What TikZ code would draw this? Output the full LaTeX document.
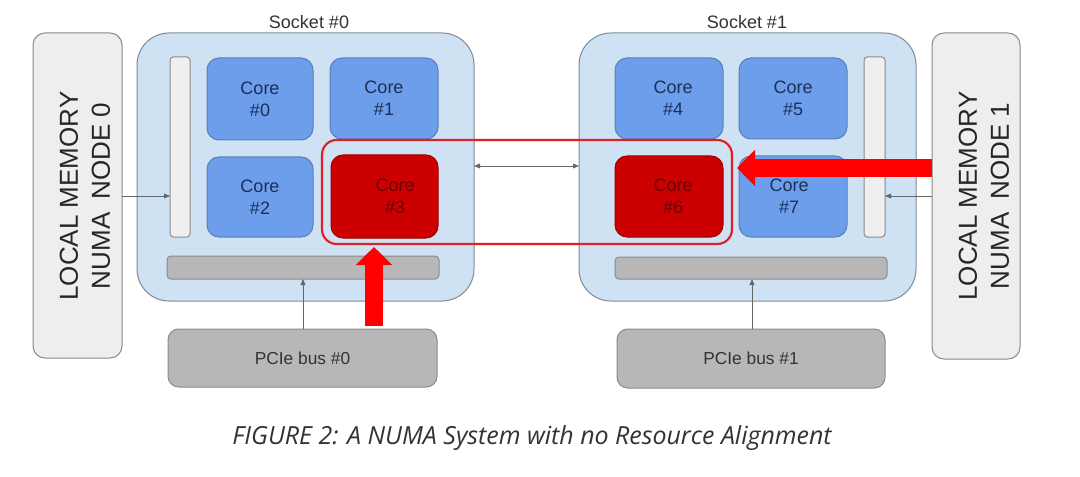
\documentclass[tikz,border=0pt]{standalone}
\usepackage{fontspec}
\setmainfont{Liberation Sans}
\newfontfamily\capfont{Open Sans}
\usetikzlibrary{arrows.meta,fit}
\definecolor{memfill}{HTML}{EEEEEE}
\definecolor{memdraw}{HTML}{8A8A8A}
\definecolor{sockfill}{HTML}{CFE2F3}
\definecolor{sockdraw}{HTML}{7F8A96}
\definecolor{corefill}{HTML}{6D9EEB}
\definecolor{coredraw}{HTML}{5A7FB5}
\definecolor{coretext}{HTML}{1C2F55}
\definecolor{redfill}{HTML}{CC0000}
\definecolor{reddraw}{HTML}{A00000}
\definecolor{redtext}{HTML}{6A0000}
\definecolor{barfill}{HTML}{B7B7B7}
\definecolor{bardraw}{HTML}{8A8A8A}
\definecolor{vbarfill}{HTML}{EFEFEF}
\definecolor{outline}{HTML}{DD1F26}
\definecolor{bigred}{HTML}{FF0000}
\definecolor{thin}{HTML}{666666}
\definecolor{txt}{HTML}{333333}
\begin{document}
\begin{tikzpicture}[x=0.75pt,y=-0.75pt,
  base/.style={inner sep=0pt,outer sep=0pt,line width=0.75pt},
  mem/.style={base,draw=memdraw,fill=memfill,rounded corners=9pt},
  memtext/.style={rotate=90,align=center,text=black!85,font=\fontsize{19.5}{24}\selectfont},
  socket/.style={base,draw=sockdraw,fill=sockfill,rounded corners=24pt},
  socklabel/.style={text=txt,font=\fontsize{13.5}{16}\selectfont},
  core/.style={base,draw=coredraw,fill=corefill,rounded corners=9pt},
  redcore/.style={core,draw=reddraw,fill=redfill},
  coretxt/.style={align=center,text=coretext,font=\fontsize{13.5}{16.5}\selectfont},
  redtxt/.style={coretxt,text=redtext},
  vbar/.style={base,draw=bardraw,fill=vbarfill,rounded corners=2.5pt},
  hbar/.style={base,draw=bardraw,fill=barfill,rounded corners=3pt},
  pcie/.style={base,draw=bardraw,fill=barfill,rounded corners=8pt},
  pcietxt/.style={text=txt,font=\fontsize{13}{16}\selectfont},
  alignbox/.style={base,draw=outline,line width=1.6pt,rounded corners=11pt},
  thinarrow/.style={draw=thin,line width=0.6pt,-{Triangle[length=4.5pt,width=3.6pt]}},
  bigarrow/.style={draw=bigred,line width=13.5pt,-{Triangle[length=13.5pt,width=26.5pt]}}
]
\useasboundingbox (0,0) rectangle (1080,477);
\fill[white] (0,0) rectangle (1080,477);

% memories
\node[mem,fit={(33,33) (122,358)}] (mem0) {};
\node[memtext] (mem0t) at (85,196) {LOCAL MEMORY\\NUMA\enspace NODE 0};
\node[mem,fit={(932,33) (1020,359)}] (mem1) {};
\node[memtext] (mem1t) at (984,196) {LOCAL MEMORY\\NUMA\enspace NODE 1};

% sockets
\node[socket,fit={(137,33) (474,301)}] (s0) {};
\node[socklabel] (s0l) at (309,22) {Socket \#0};
\node[socket,fit={(579,33) (916,301)}] (s1) {};
\node[socklabel] (s1l) at (747,22) {Socket \#1};

% bars
\node[vbar,fit={(170,57) (190,237)}] (vb0) {};
\node[hbar,fit={(167,256) (439,279)}] (hb0) {};
\node[vbar,fit={(864,57) (885,237)}] (vb1) {};
\node[hbar,fit={(615,257) (887,279)}] (hb1) {};

% cores socket 0
\node[core,fit={(207,58) (313,140)}] (c0) {};
\node[core,fit={(330,58) (438,139)}] (c1) {};
\node[core,fit={(207,157) (313,237)}] (c2) {};
\node[redcore,fit={(331,155) (438,238)}] (c3) {};
\node[coretxt] (c0t) at (c0) {Core\\\#0};
\node[coretxt] (c1t) at (c1) {Core\\\#1};
\node[coretxt] (c2t) at (c2) {Core\\\#2};
\node[redtxt] (c3t) at ([xshift=8]c3.center) {Core\\\#3};

% cores socket 1
\node[core,fit={(615,58) (723,139)}] (c4) {};
\node[core,fit={(739,58) (847,139)}] (c5) {};
\node[redcore,fit={(615,156) (723,237)}] (c6) {};
\node[core,fit={(739,156) (847,237)}] (c7) {};
\node[coretxt] (c4t) at ([xshift=3]c4.center) {Core\\\#4};
\node[coretxt] (c5t) at (c5) {Core\\\#5};
\node[redtxt] (c6t) at ([xshift=3]c6.center) {Core\\\#6};
\node[coretxt] (c7t) at ([xshift=-3]c7.center) {Core\\\#7};

% PCIe
\node[pcie,fit={(168,329) (437,387)}] (p0) {};
\node[pcietxt] (p0t) at (p0) {PCIe bus \#0};
\node[pcie,fit={(617,329) (885,388)}] (p1) {};
\node[pcietxt] (p1t) at (p1) {PCIe bus \#1};

% alignment outline
\node[alignbox,fit={(322,140) (732,244)}] (al) {};

% thin connectors
\draw[thinarrow] (mem0.east |- 0,196) -- (vb0.west |- 0,196);
\draw[thinarrow] (mem1.west |- 0,196) -- (vb1.east |- 0,196);
\draw[thinarrow] (p0.north -| 303,0) -- (hb0.south -| 303,0);
\draw[thinarrow] (p1.north -| 752,0) -- (hb1.south -| 752,0);
\draw[thinarrow,{Triangle[length=4.5pt,width=3.6pt]}-{Triangle[length=4.5pt,width=3.6pt]}] (s0.east |- 0,166) -- (s1.west |- 0,166);

% big red arrows
\coordinate (redtip1) at (374,247);
\coordinate (redtip2) at (737,168);
\draw[bigarrow] (374,326) -- (redtip1);
\draw[bigarrow] (mem1.west |- redtip2) -- (redtip2);

% caption
\node[text=txt,font=\capfont\itshape\fontsize{18.7}{22}\selectfont] (cap) at (532,438) {FIGURE 2: A NUMA System with no Resource Alignment};
\end{tikzpicture}
\end{document}
